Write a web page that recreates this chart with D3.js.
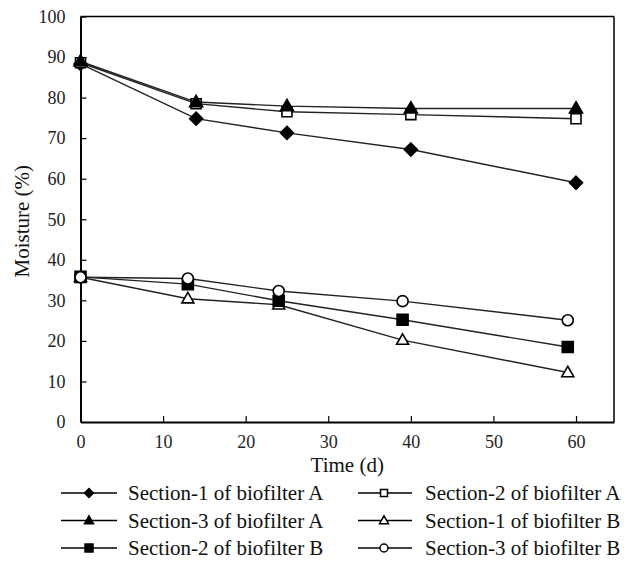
<!DOCTYPE html>
<html>
<head>
<meta charset="utf-8">
<script src="https://cdn.jsdelivr.net/npm/d3@7"></script>
<style>
  html, body { margin: 0; padding: 0; background: #fff; }
  svg { display: block; }
</style>
</head>
<body>
<svg id="chart" width="632" height="572"></svg>
<script>
// Sampling days for each biofilter
const daysA = [0, 14, 25, 40, 60];
const daysB = [0, 13, 24, 39, 59];

// Moisture content (%) per section
const sec1A = [88.3, 74.8, 71.3, 67.2, 59.0];
const sec2A = [88.6, 78.5, 76.5, 75.8, 74.8];
const sec3A = [88.9, 78.9, 77.9, 77.3, 77.3];
const sec1B = [35.7, 30.4, 28.9, 20.2, 12.2];
const sec2B = [35.8, 34.0, 29.9, 25.2, 18.5];
const sec3B = [35.7, 35.4, 32.3, 29.8, 25.1];

const seriesNames = [
  "Section-1 of biofilter A", "Section-2 of biofilter A",
  "Section-3 of biofilter A", "Section-1 of biofilter B",
  "Section-2 of biofilter B", "Section-3 of biofilter B"
];

const xTicks = [0, 10, 20, 30, 40, 50, 60];
const yTicks = [0, 10, 20, 30, 40, 50, 60, 70, 80, 90, 100];

const FONT = '"Liberation Serif", "Times New Roman", serif';

const series = [
  { name: seriesNames[0], days: daysA, vals: sec1A, shape: "diamond",  fill: "#000", size: 13 },
  { name: seriesNames[1], days: daysA, vals: sec2A, shape: "square",   fill: "#fff", size: 10 },
  { name: seriesNames[2], days: daysA, vals: sec3A, shape: "triangle", fill: "#000", size: 13 },
  { name: seriesNames[3], days: daysB, vals: sec1B, shape: "triangle", fill: "#fff", size: 12 },
  { name: seriesNames[4], days: daysB, vals: sec2B, shape: "square",   fill: "#000", size: 11 },
  { name: seriesNames[5], days: daysB, vals: sec3B, shape: "circle",   fill: "#fff", size: 11 }
];

const svg = d3.select("#chart");
const m = { left: 80.5, right: 614, top: 16.5, bottom: 422 };

const x = d3.scaleLinear().domain([0, 64.6]).range([m.left, m.right]);
const y = d3.scaleLinear().domain([0, 100]).range([m.bottom, m.top]);

// Frame: top and right borders
svg.append("line").attr("x1", m.left).attr("x2", m.right).attr("y1", m.top).attr("y2", m.top)
  .attr("stroke", "#000").attr("stroke-width", 1.5);
svg.append("line").attr("x1", m.right).attr("x2", m.right).attr("y1", m.top).attr("y2", m.bottom)
  .attr("stroke", "#000").attr("stroke-width", 1.5);

// Axes with inward ticks
const xAxis = svg.append("g").attr("transform", `translate(0,${m.bottom})`)
  .call(d3.axisBottom(x).tickValues(xTicks).tickSizeInner(-6).tickSizeOuter(0).tickPadding(13).tickFormat(d3.format("d")));
const yAxis = svg.append("g").attr("transform", `translate(${m.left},0)`)
  .call(d3.axisLeft(y).tickValues(yTicks).tickSizeInner(-6).tickSizeOuter(0).tickPadding(15).tickFormat(d3.format("d")));

[xAxis, yAxis].forEach(g => {
  g.attr("font-family", null).attr("font-size", null);
  g.select(".domain").attr("stroke", "#000").attr("stroke-width", 2);
  g.selectAll(".tick line").attr("stroke", "#000").attr("stroke-width", 1.2);
  g.selectAll(".tick text").style("font-family", FONT).style("font-size", "18px").attr("fill", "#222");
});
xAxis.selectAll(".tick").filter(d => d === 0).select("line").remove();
yAxis.selectAll(".tick").filter(d => d === 0).select("line").remove();

// Axis titles
svg.append("text").attr("x", (m.left + m.right) / 2).attr("y", 472)
  .attr("text-anchor", "middle").style("font-family", FONT).style("font-size", "21px")
  .attr("fill", "#111").text("Time (d)");
svg.append("text").attr("transform", `translate(29,${(m.top + m.bottom) / 2 + 2}) rotate(-90)`)
  .attr("text-anchor", "middle").style("font-family", FONT).style("font-size", "21px")
  .attr("fill", "#111").text("Moisture (%)");

// Marker outlines centred on the origin, sz = overall width in px
function markerPath(shape, sz) {
  const h = sz / 2;
  const p = d3.path();
  if (shape === "circle") {
    p.arc(0, 0, h, 0, 2 * Math.PI);
  } else if (shape === "square") {
    p.rect(-h, -h, sz, sz);
  } else if (shape === "diamond") {
    p.moveTo(0, -h); p.lineTo(h, 0); p.lineTo(0, h); p.lineTo(-h, 0); p.closePath();
  } else {
    const th = sz * 0.87;
    p.moveTo(0, -th * 0.6); p.lineTo(h, th * 0.4); p.lineTo(-h, th * 0.4); p.closePath();
  }
  return p.toString();
}

const line = d3.line().x(d => x(d[0])).y(d => y(d[1]));

const plot = svg.append("g");
series.forEach(s => {
  const pts = s.days.map((d, i) => [d, s.vals[i]]);
  plot.append("path").datum(pts).attr("d", line)
    .attr("fill", "none").attr("stroke", "#222").attr("stroke-width", 1.4);
});
series.forEach(s => {
  const pts = s.days.map((d, i) => [d, s.vals[i]]);
  plot.selectAll(null).data(pts).enter().append("path")
    .attr("d", markerPath(s.shape, s.size))
    .attr("transform", d => `translate(${x(d[0])},${y(d[1])})`)
    .attr("fill", s.fill).attr("stroke", "#000").attr("stroke-width", 1.6);
});

// Legend, two columns by three rows
const legendRows = [493, 520.5, 548];
const legendCols = [{ x1: 61, x2: 117, m: 89, t: 128 }, { x1: 358, x2: 412, m: 384, t: 425 }];
const legend = svg.append("g");
series.forEach((s, i) => {
  const c = legendCols[i % 2], ry = legendRows[Math.floor(i / 2)];
  legend.append("line").attr("x1", c.x1).attr("x2", c.x2).attr("y1", ry).attr("y2", ry)
    .attr("stroke", "#000").attr("stroke-width", 1.4);
  legend.append("path").attr("d", markerPath(s.shape, Math.round(s.size * 0.72)))
    .attr("transform", `translate(${c.m},${ry})`)
    .attr("fill", s.fill).attr("stroke", "#000").attr("stroke-width", 1.5);
  legend.append("text").attr("x", c.t).attr("y", ry + 7)
    .style("font-family", FONT).style("font-size", "21px").attr("fill", "#111").text(s.name);
});
</script>
</body>
</html>
